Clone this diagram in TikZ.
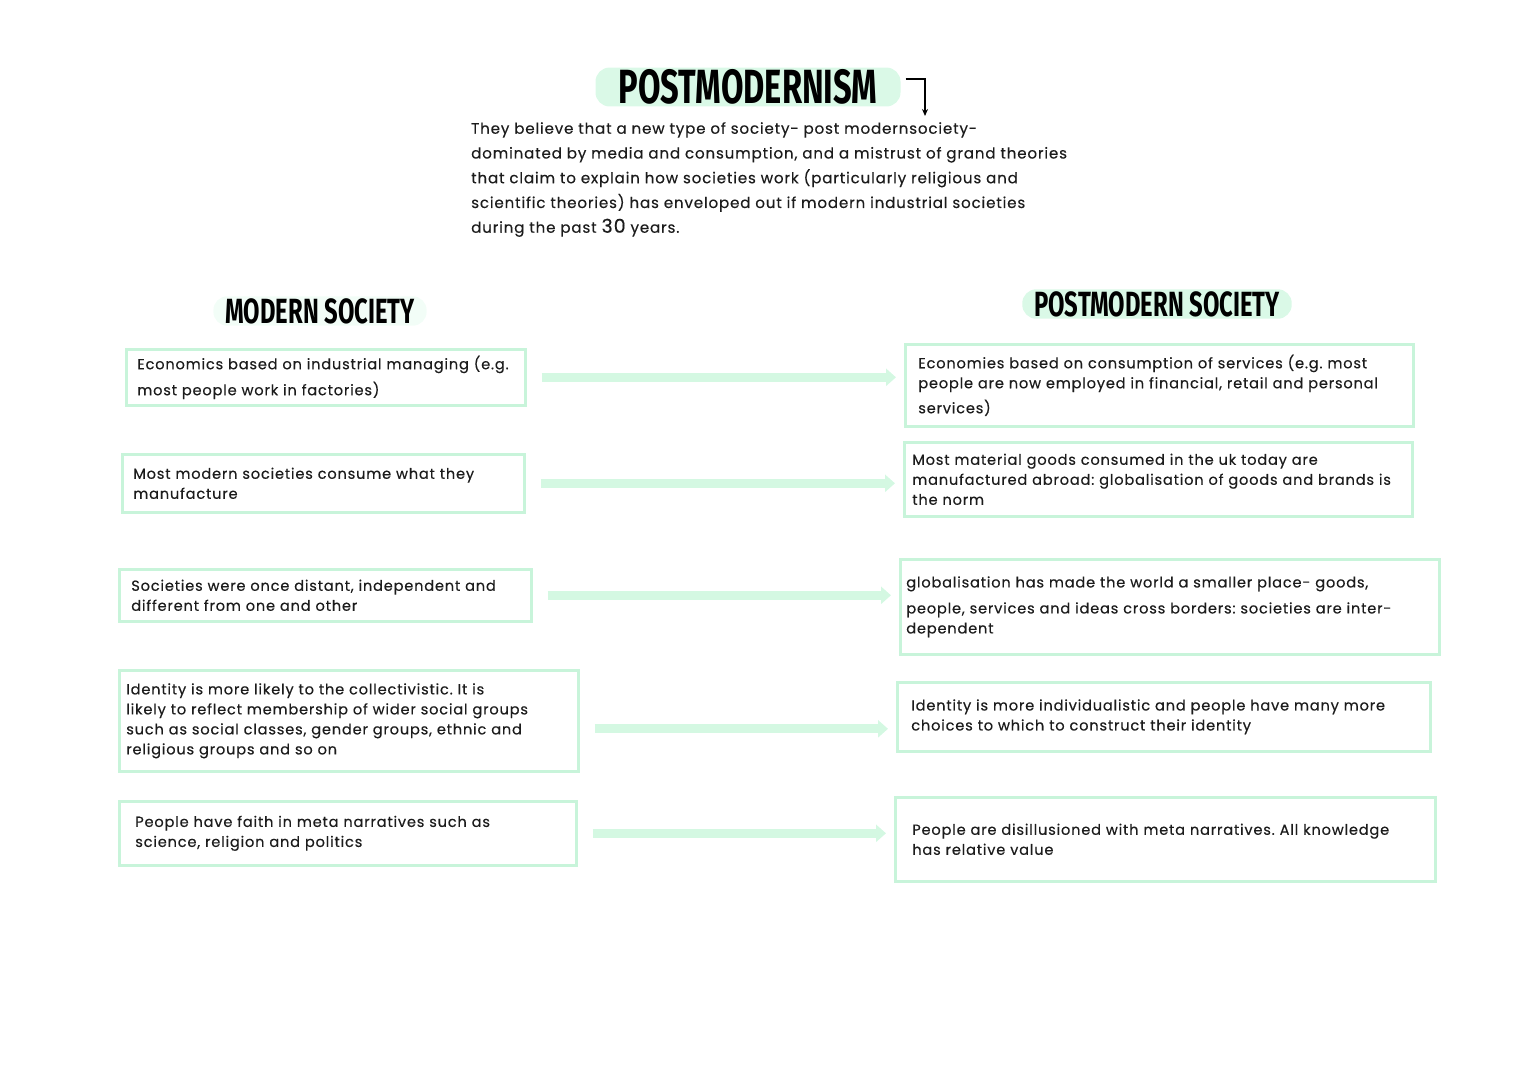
\documentclass[tikz,border=0pt]{standalone}
\usepackage{fontspec}
\setmainfont{Poppins}[LetterSpace=5.5, FakeBold=0.35]
\newfontfamily\headfont[FakeStretch=0.68]{Fira Sans}
\usepackage{xcolor}
\usepackage{tikz}
\usetikzlibrary{arrows.meta, positioning}
\definecolor{mintline}{RGB}{200,244,218}
\definecolor{mintarrow}{RGB}{212,248,226}
\definecolor{mintpill}{RGB}{218,249,231}
\definecolor{inkgray}{RGB}{28,28,28}
\frenchspacing

\begin{document}
\begin{tikzpicture}[
          x=1pt, y=-1pt,
          sidebox/.style={
            rectangle, draw=mintline, line width=2.6pt,
            anchor=north west, align=left, inner xsep=11pt, inner ysep=0pt,
            font=\fontsize{14.6}{20}\selectfont, text=inkgray
          },
          heading/.style={
            rectangle, rounded corners=14pt, fill=mintpill,
            inner xsep=12pt, inner ysep=2pt,
            font=\headfont\bfseries\fontsize{35}{36}\selectfont, text=black
          },
          flow/.style={
            -{Triangle[length=10pt, width=17pt]}, line width=9pt, color=mintarrow,
            shorten <=15pt, shorten >=8pt
          },
          pointer/.style={-{Stealth[length=7pt, width=6pt]}, line width=1.6pt}
        ]
          \useasboundingbox (0,0) rectangle (1527,1080);

          % title and introduction
          \node[heading, minimum width=305pt, minimum height=32pt,
                font=\headfont\bfseries\fontsize{48}{48}\selectfont] (title) at (748,87) {POSTMODERNISM};
          \coordinate (titleturn) at (925,116);
          \draw[pointer] ([shift={(5pt,8pt)}]title.east) -| (titleturn);
          \node[anchor=north west, align=left, inner sep=0pt, text=inkgray,
                font=\fontsize{15.1}{24.75}\selectfont] (intro) at (471,122)
            {They believe that a new type of society- post modernsociety-\\
             dominated by media and consumption, and a mistrust of grand theories\\
             that claim to explain how societies work (particularly religious and\\
             scientific theories) has enveloped out if modern industrial societies\\
             during the past {\fontsize{19}{20}\selectfont 30} years.};

          % column headings
          \node[heading, fill=mintpill!35, minimum width=192pt] (modern) at (320,311) {MODERN SOCIETY};
          \node[heading, minimum width=250pt, minimum height=28pt] (postmodern) at (1157,304) {POSTMODERN SOCIETY};

          % modern society
          \node[sidebox, minimum width=399pt, minimum height=56pt, text width=377pt] (mod1) at (125,348)
            {Economics based on industrial managing (e.g.\\[6pt] most people work in factories)};
          \node[sidebox, minimum width=402pt, minimum height=58pt, text width=380pt] (mod2) at (121,453)
            {Most modern societies consume what they\\ manufacture};
          \node[sidebox, minimum width=412pt, minimum height=52pt, text width=388pt, inner xsep=12pt] (mod3) at (118,568)
            {Societies were once distant, independent and\\ different from one and other};
          \node[sidebox, minimum width=459pt, minimum height=101pt, text width=445pt, inner xsep=7pt] (mod4) at (118,669)
            {Identity is more likely to the collectivistic. It is\\ likely to reflect membership of wider social groups\\
             such as social classes, gender groups, ethnic and\\ religious groups and so on};
          \node[sidebox, minimum width=457pt, minimum height=64pt, text width=425pt, inner xsep=16pt] (mod5) at (118,800)
            {People have faith in meta narratives such as\\ science, religion and politics};

          % postmodern society
          \node[sidebox, minimum width=508pt, minimum height=82pt, text width=482pt, inner xsep=13pt] (post1) at (904,343)
            {Economies based on consumption of services (e.g. most\\ people are now employed in financial, retail and personal\\[5pt] services)};
          \node[sidebox, minimum width=508pt, minimum height=74pt, text width=492pt, inner xsep=8pt] (post2) at (903,441)
            {Most material goods consumed in the uk today are\\ manufactured abroad: globalisation of goods and brands is\\ the norm};
          \node[sidebox, minimum width=539pt, minimum height=95pt, text width=527pt, inner xsep=6pt] (post3) at (899,558)
            {globalisation has made the world a smaller place- goods,\\[6pt] people, services and ideas cross borders: societies are inter-\\ dependent};
          \node[sidebox, minimum width=533pt, minimum height=69pt, text width=505pt, inner xsep=14pt] (post4) at (896,681)
            {Identity is more individualistic and people have many more\\ choices to which to construct their identity};
          \node[sidebox, minimum width=540pt, minimum height=84pt, text width=506pt, inner xsep=17pt] (post5) at (894,796)
            {People are disillusioned with meta narratives. All knowledge\\ has relative value};

          % comparisons
          \draw[flow] (mod1.east) -- (mod1.east -| post1.west);
          \draw[flow] (mod2.east) -- (mod2.east -| post2.west);
          \draw[flow] (mod3.east) -- (mod3.east -| post3.west);
          \draw[flow] ([yshift=-8pt]mod4.east) -- ([yshift=-8pt]mod4.east -| post4.west);
          \draw[flow] (mod5.east) -- (mod5.east -| post5.west);
        \end{tikzpicture}
\end{document}
